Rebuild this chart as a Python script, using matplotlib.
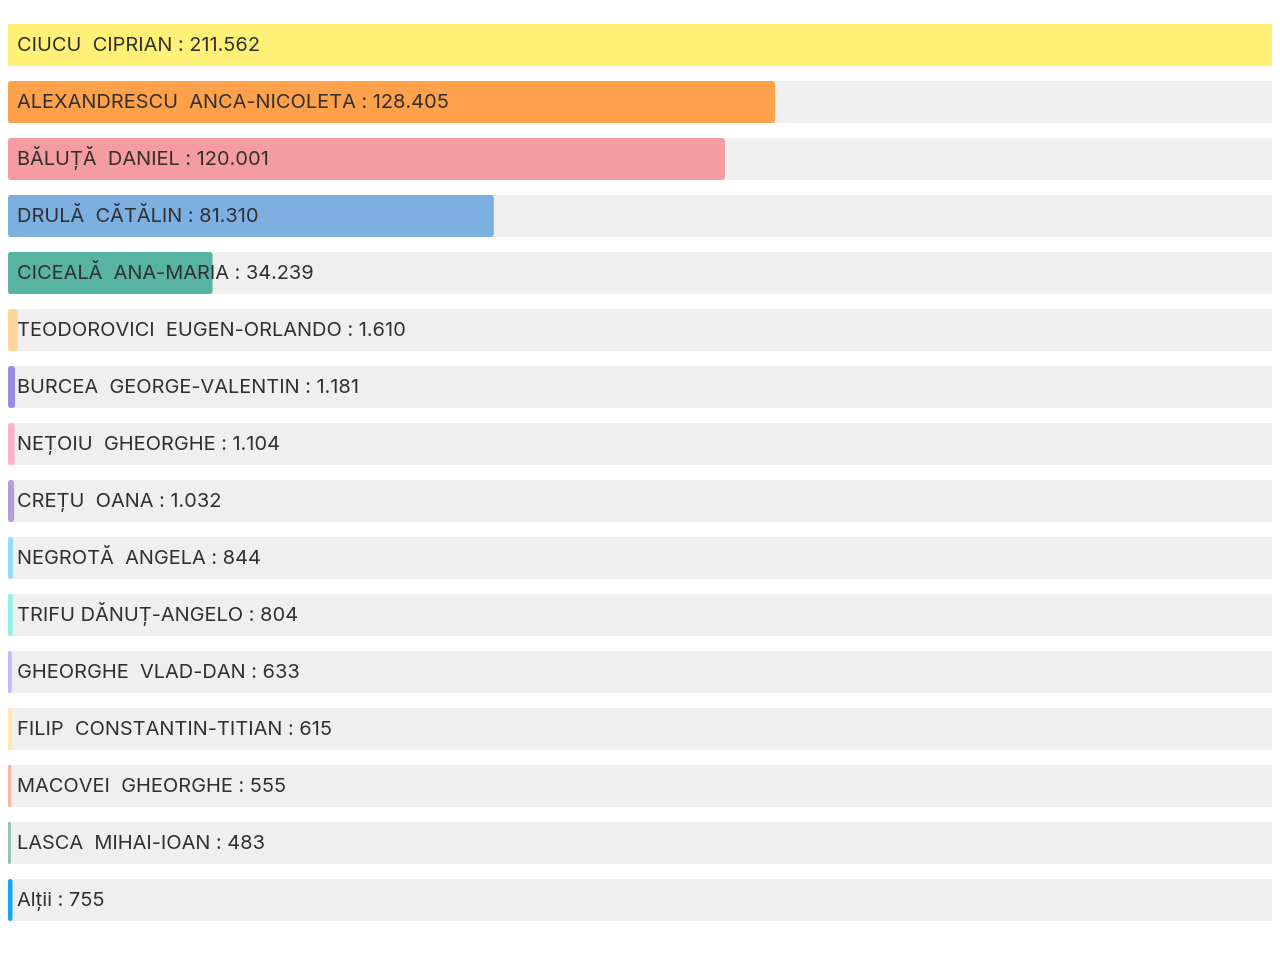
import matplotlib.pyplot as plt
from matplotlib.patches import FancyBboxPatch

names = ["CIUCU  CIPRIAN", "ALEXANDRESCU  ANCA-NICOLETA", "BĂLUȚĂ  DANIEL",
         "DRULĂ  CĂTĂLIN", "CICEALĂ  ANA-MARIA", "TEODOROVICI  EUGEN-ORLANDO",
         "BURCEA  GEORGE-VALENTIN", "NEȚOIU  GHEORGHE", "CREȚU  OANA",
         "NEGROTĂ  ANGELA", "TRIFU DĂNUȚ-ANGELO", "GHEORGHE  VLAD-DAN",
         "FILIP  CONSTANTIN-TITIAN", "MACOVEI  GHEORGHE", "LASCA  MIHAI-IOAN",
         "Alții"]
votes = [211562, 128405, 120001, 81310, 34239, 1610, 1181, 1104, 1032,
         844, 804, 633, 615, 555, 483, 755]
colors = ["#FFF176", "#FFA14B", "#F59CA1", "#7DB0E0", "#59B3A3", "#FFD59C",
          "#9B89E6", "#FFAFC8", "#B39DDB", "#92DCFC", "#8DF3E4", "#C8B9FF",
          "#FFE8A8", "#F8B5A2", "#8FC3B5", "#17A7F2"]

W, H = 1280, 963
vmax = max(votes)
px = vmax / 1264.0          # value units per pixel
row = 57.0                  # pixels per row

fig = plt.figure(figsize=(W / 100, H / 100), dpi=100)
ax = fig.add_axes([0, 0, 1, 1])
ax.set_xlim(-8 * px, (W - 8) * px)
ax.set_ylim((H - 45) / row, -45 / row)
ax.axis("off")

bh = 42 / row
for i, (n, v, c) in enumerate(zip(names, votes, colors)):
    ax.barh(i, vmax, height=bh, left=0, color="#EFEFEF", linewidth=0)
    r = min(3.0, v / px / 2)
    box = FancyBboxPatch((0, i - bh / 2), v, bh,
                         boxstyle=f"round,pad=0,rounding_size={r * px}",
                         mutation_aspect=(1 / row) / px,
                         facecolor=c, edgecolor="none")
    ax.add_patch(box)
    label = f"{n} : {v:,}".replace(",", ".")
    ax.annotate(label, xy=(0, i), xytext=(9, -6), textcoords="offset pixels",
                va="baseline", ha="left", fontsize=14.4, color="#303030",
                family=["Inter", "DejaVu Sans"])

fig.savefig("out.png", dpi=100, facecolor="white")
